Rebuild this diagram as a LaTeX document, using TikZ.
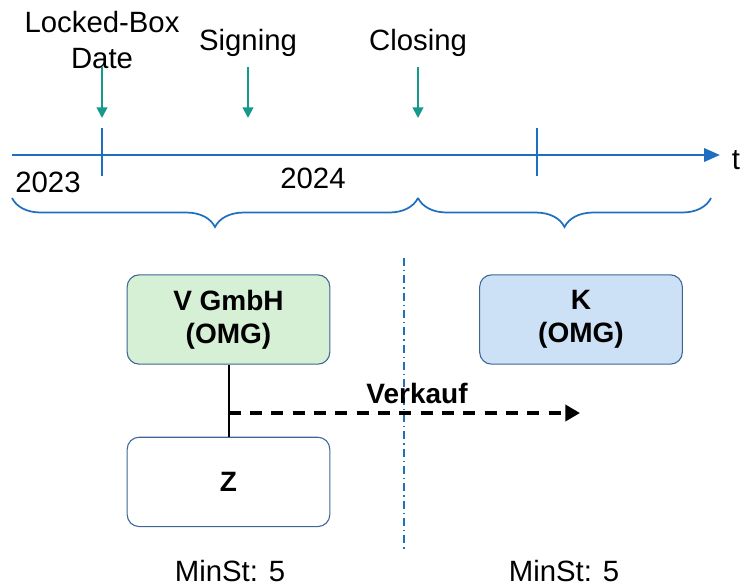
\documentclass[tikz,border=0pt]{standalone}
\usepackage{fontspec}
\setmainfont{Liberation Sans}
\usetikzlibrary{positioning, arrows.meta, decorations.pathreplacing}
\definecolor{axisblue}{HTML}{1F6FC1}
\definecolor{markteal}{HTML}{14998A}
\definecolor{boxgreen}{HTML}{D5F0D5}
\definecolor{boxblue}{HTML}{CCE1F6}
\definecolor{boxedge}{HTML}{3D6596}

\begin{document}
\begin{tikzpicture}[
    x=0.75pt, y=-0.75pt,
    txt/.style={font=\fontsize{22}{27}\selectfont, align=center, inner sep=0pt, anchor=base},
    marker/.style={-{Triangle[length=8pt, width=8pt]}, markteal, line width=1.5pt},
    tick/.style={axisblue, line width=1.5pt},
    brace/.style={decorate, decoration={brace, mirror, amplitude=21.75pt}, axisblue, line width=1.3pt},
    entity/.style={draw=boxedge, line width=0.8pt, rounded corners=9pt, minimum width=152pt, minimum height=67pt,
        align=center, font=\fontsize{21}{25}\selectfont\bfseries}
]
    \useasboundingbox (0,0) rectangle (742,587);

    % time axis
    \coordinate (t0) at (12,155);
    \coordinate (t1) at (720,155);
    \draw[-{Triangle[length=12pt, width=10pt]}, axisblue, line width=2pt] (t0) -- (t1);
    \node[txt, anchor=center] (t) at (736,160) {t};
    \foreach \x/\name in {102/tlbd, 537/tyear} {
        \draw[tick] (\x,128) -- (\x,176);
    }
    \node[txt] (y2023) at (48,192) {2023};
    \node[txt] (y2024) at (313,188) {2024};

    % events
    \node[txt] (lbd) at (102,68) {Locked-Box\\Date};
    \node[txt] (sign) at (248,50) {Signing};
    \node[txt] (close) at (418,50) {Closing};
    \foreach \x/\name in {102/lbd, 248/sign, 418/close} {
        \coordinate (\name top) at (\x,67);
        \coordinate (\name tip) at (\x,118);
        \draw[marker] (\name top) -- (\name tip);
    }

    % periods
    \coordinate (b0) at (12,198);
    \coordinate (b1) at (418,198);
    \coordinate (b2) at (711,198);
    \draw[brace] (b0) -- (b1);
    \draw[brace] (b1) -- (b2);

    % separator
    \draw[axisblue, line width=1.2pt, dash pattern=on 6pt off 3pt on 1pt off 3pt] (404,258) -- (404,550);

    % entities
    \node[entity, fill=boxgreen] (vgmbh) at (228.5,319.5) {V GmbH\\(OMG)};
    \node[entity, fill=boxblue] (k) at (581,319.5) {K\\(OMG)};
    \node[entity, fill=white, below=54pt of vgmbh] (z) {Z};
    \draw[line width=1.5pt] (vgmbh.south) -- (z.north);

    % sale
    \coordinate (fork) at (vgmbh.south |- 0,413);
    \coordinate (sale) at (580,413);
    \draw[dash pattern=on 9pt off 7pt, line width=2.8pt, -{Triangle[length=11pt, width=12pt]}] (fork) -- (sale);
    \node[txt, font=\fontsize{21}{25}\selectfont\bfseries] (verkauf) at (417,403) {Verkauf};

    \node[txt] (minv) at (230,581) {MinSt: 5};
    \node[txt] (mink) at (564,581) {MinSt: 5};
\end{tikzpicture}
\end{document}
